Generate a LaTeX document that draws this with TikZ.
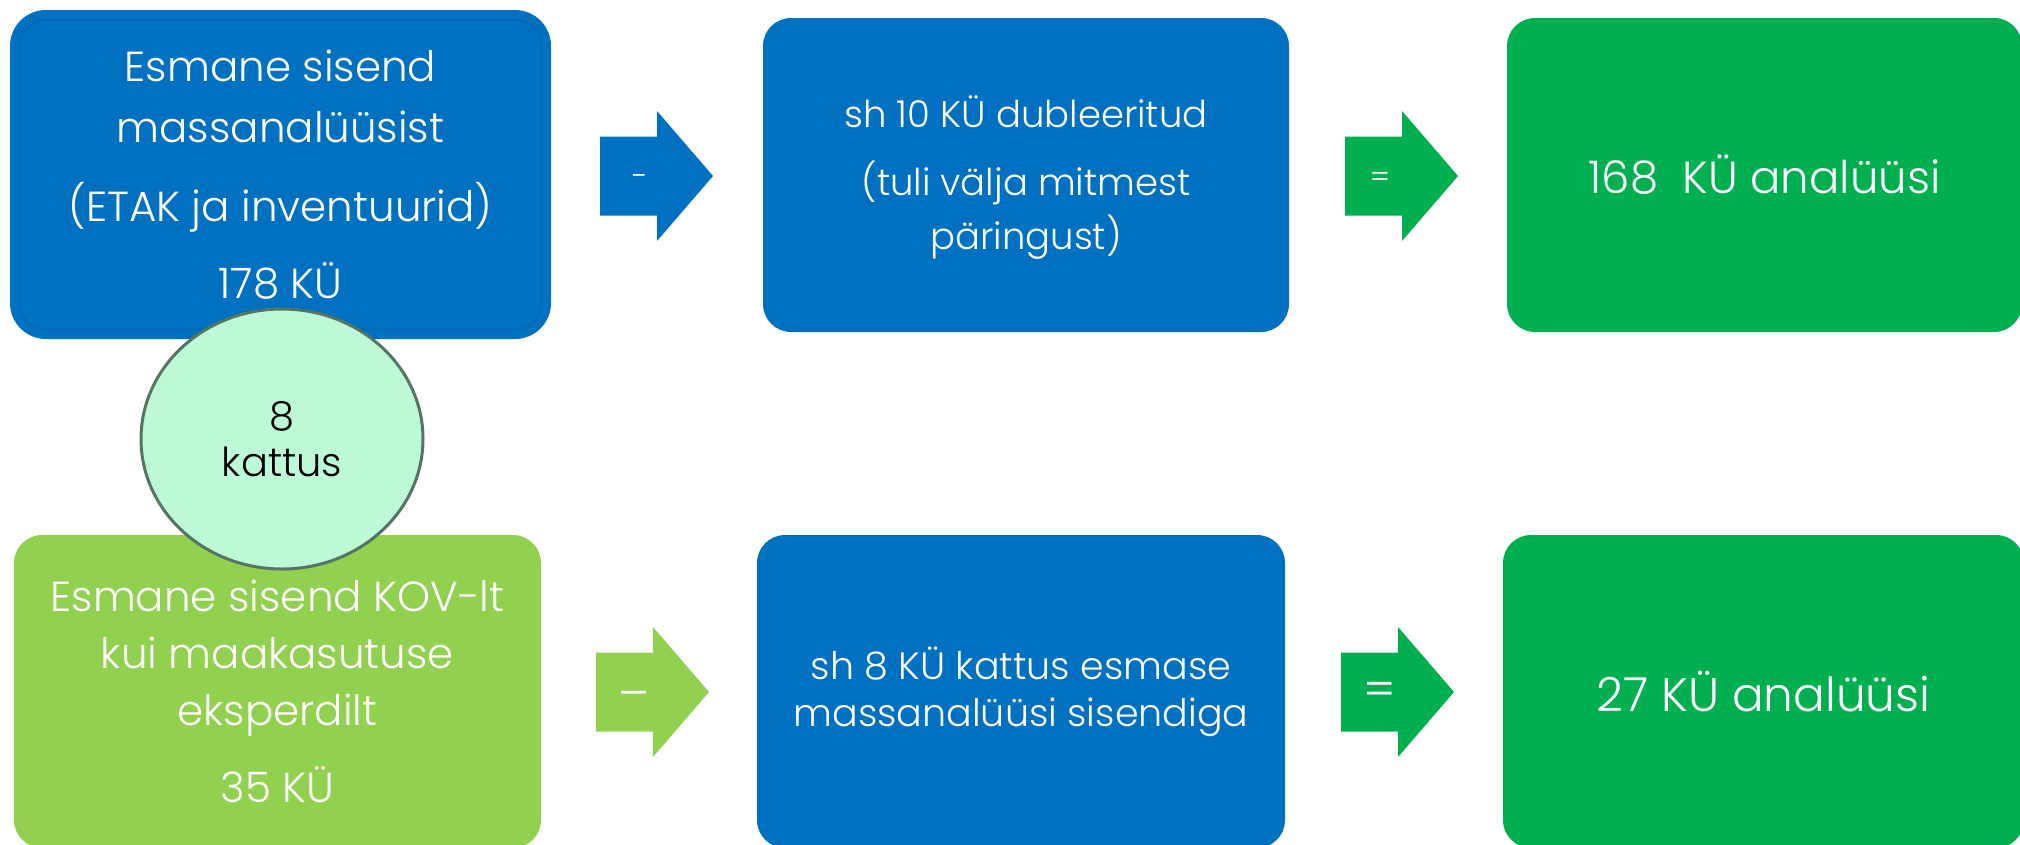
\documentclass[tikz,border=0pt]{standalone}
\usepackage{fontspec}
\setmainfont{Poppins}[UprightFont=* Light]
\usetikzlibrary{shapes.geometric}
\definecolor{cblue}{HTML}{0070C0}
\definecolor{cgreen}{HTML}{00B050}
\definecolor{clgreen}{HTML}{92D050}
\definecolor{cmint}{HTML}{BDF9D7}
\definecolor{cring}{HTML}{557562}
\definecolor{cline}{HTML}{0A5FA6}
\tikzset{
  box/.style={rectangle, rounded corners=28pt, inner sep=0pt, text=white, align=center},
  optext/.style={text=white, inner sep=0pt},
  oparrow/.pic={
    \fill (0,-39.5) -- (57,-39.5) -- (57,-65) -- (113,0) -- (57,65) -- (57,39.5) -- (0,39.5) -- cycle;
  }
}
\begin{document}
\begin{tikzpicture}[x=1pt,y=-1pt]
\useasboundingbox (0,0) rectangle (2020,844);
\clip (0,0) rectangle (2020,844);
% top row
\node[box, fill=cblue, rounded corners=36pt, minimum width=541pt, minimum height=329pt, font=\fontsize{42}{61}\selectfont] (tl) at (280.5,174.5)
  {Esmane sisend\\ massanalüüsist\\[18pt] (ETAK ja inventuurid)\\[16pt] 178 KÜ};
\draw[cline, line width=0.8pt, rounded corners=26pt] ([shift={(10pt,-10pt)}]tl.north west) rectangle ([shift={(-10pt,10pt)}]tl.south east);
\node[box, fill=cblue, minimum width=526pt, minimum height=314pt] (tm) at (1026,175) {};
\node[text=white, align=center, inner sep=0pt, font=\fontsize{37}{54}\selectfont] (tmt) at (1026,178)
  {sh 10 KÜ dubleeritud\\[14pt] (tuli välja mitmest\\ päringust)};
\node[box, fill=cgreen, minimum width=515pt, minimum height=314pt, font=\fontsize{45}{54}\selectfont] (tr) at (1764.5,175)
  {168\ \ KÜ analüüsi};
% bottom row
\node[box, fill=clgreen, minimum width=527pt, minimum height=313pt, font=\fontsize{42}{57}\selectfont] (bl) at (277.5,691.5)
  {Esmane sisend KOV-lt\\ kui maakasutuse\\ eksperdilt\\[20pt] 35 KÜ};
\node[box, fill=cblue, minimum width=528pt, minimum height=313pt, font=\fontsize{38}{47}\selectfont] (bm) at (1021,691.5)
  {sh 8 KÜ kattus esmase\\ massanalüüsi sisendiga};
\node[box, fill=cgreen, minimum width=521pt, minimum height=313pt, font=\fontsize{47}{56}\selectfont] (br) at (1763.5,691.5)
  {27 KÜ analüüsi};
% arrows
\pic[fill=cblue] at (600,176) {oparrow};
\node[optext, font=\fontsize{30}{36}\selectfont] (m1) at (640,180) {-};
\pic[fill=cgreen] at (1345,176) {oparrow};
\node[optext, font=\fontsize{30}{36}\selectfont] (e1) at (1380,180) {=};
\pic[fill=clgreen] at (596,692) {oparrow};
\node[optext, font=\fontsize{48}{56}\selectfont] (m2) at (634,701) {–};
\pic[fill=cgreen] at (1341,692) {oparrow};
\node[optext, font=\fontsize{48}{56}\selectfont] (e2) at (1380,694) {=};
% overlap circle
\node[ellipse, fill=cmint, draw=cring, line width=3pt, minimum width=282pt, minimum height=260pt, inner sep=0pt, align=center, font=\fontsize{40}{46}\selectfont] (ov) at (282,439)
  {8\\ kattus};
\end{tikzpicture}
\end{document}
